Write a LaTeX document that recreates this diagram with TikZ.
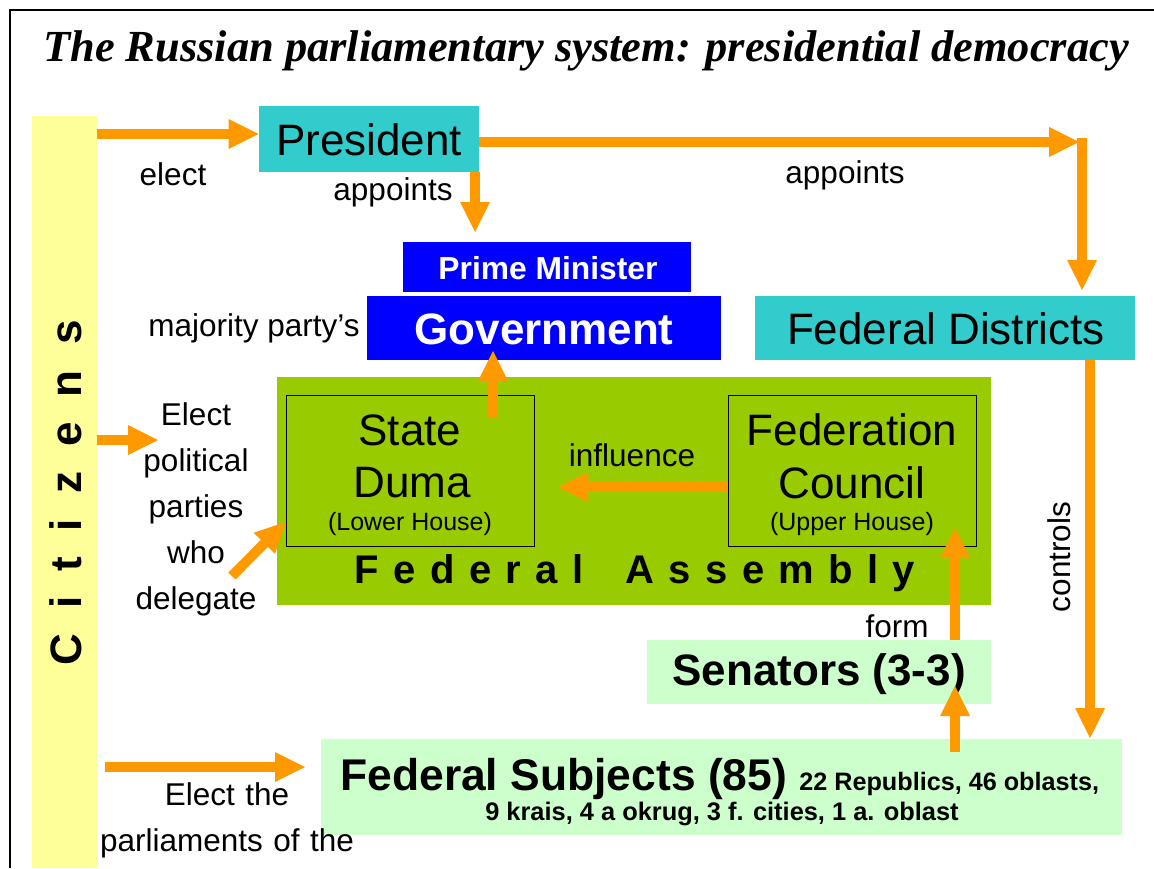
\documentclass[tikz,border=0pt]{standalone}
\usepackage{fontspec}
\setmainfont{Liberation Sans}
\newfontfamily\titlefont{Liberation Serif}
\usetikzlibrary{arrows.meta,calc}
\definecolor{orng}{HTML}{FF9900}
\definecolor{cyanbox}{HTML}{33CCCC}
\definecolor{bluebox}{HTML}{0000FF}
\definecolor{assembly}{HTML}{99CC00}
\definecolor{lgreen}{HTML}{CCFFCC}
\definecolor{ybar}{HTML}{FFFF99}
\tikzset{
  box/.style={draw=none, inner sep=0pt},
  house/.style={draw=black, line width=0.5pt, inner sep=0pt, minimum width=124pt, minimum height=75.5pt},
  lbl/.style={inner sep=0pt, font=\fontsize{15.75}{23}\selectfont, align=center},
  big/.style={inner sep=0pt, font=\fontsize{22}{26}\selectfont},
  small/.style={inner sep=0pt, font=\fontsize{12.5}{15}\selectfont},
  arr/.style={draw=orng, line width=5pt, -{Triangle[length=15pt,width=15pt,line width=0pt]}},
}
\begin{document}
\begin{tikzpicture}[x=0.5pt,y=-0.5pt]
\useasboundingbox (0,0) rectangle (1154,868);
% frame
\draw[line width=1.2pt] (10,868) -- (10,10) -- (1154,10);
% title
\node[inner sep=0pt, font=\titlefont\bfseries\itshape\fontsize{22.2}{27}\selectfont] (title) at (586,51) {The Russian parliamentary system: presidential democracy};
% citizens bar
\node[box, fill=ybar, minimum width=32.5pt, minimum height=376pt] (cit) at (64.5,492) {};
\node[inner sep=0pt, rotate=90, font=\fontsize{22}{26}\selectfont\bfseries] (citt) at (66,493)
  {C\hspace{12.6pt}i\hspace{12.6pt}t\hspace{12.6pt}i\hspace{12.6pt}z\hspace{12.6pt}e\hspace{12.6pt}n\hspace{12.6pt}s};
% boxes
\node[box, fill=cyanbox, minimum width=110pt, minimum height=33pt] (pres) at (369,139) {};
\node[big] at (369,140) {President};
\node[box, fill=bluebox, minimum width=144pt, minimum height=25pt] (pm) at (547,267) {};
\node[inner sep=0pt, text=white, font=\fontsize{15.9}{18}\selectfont\bfseries] at (548,268) {Prime Minister};
\node[box, fill=bluebox, minimum width=177pt, minimum height=32pt] (gov) at (544,328) {};
\node[big, text=white, font=\fontsize{22}{26}\selectfont\bfseries] at (544,329) {Government};
\node[box, fill=cyanbox, minimum width=190pt, minimum height=32pt] (fd) at (945,328) {};
\node[big] at (946,329) {Federal Districts};
\node[box, fill=assembly, minimum width=357pt, minimum height=114pt] (fa) at (634,491) {};
\node[house] (duma) at (410,470.5) {};
\node[house] (fc) at (852,470.5) {};
\node[big] at (410,430) {State};
\node[big] at (412,483) {Duma};
\node[small] at (410,524) {(Lower House)};
\node[big] at (852,430) {Federation};
\node[big] at (852,483) {Council};
\node[small] at (852,524) {(Upper House)};
\node[inner sep=0pt, font=\fontsize{20}{24}\selectfont\bfseries] (fat) at (635,573)
  {F\hspace{7.2pt}e\hspace{7.2pt}d\hspace{7.2pt}e\hspace{7.2pt}r\hspace{7.2pt}a\hspace{7.2pt}l\hspace{21pt}A\hspace{7.2pt}s\hspace{7.2pt}s\hspace{7.2pt}e\hspace{7.2pt}m\hspace{7.2pt}b\hspace{7.2pt}l\hspace{7.2pt}y};
\node[box, fill=lgreen, minimum width=172pt, minimum height=32pt] (sen) at (819,672) {};
\node[big, font=\fontsize{22}{26}\selectfont\bfseries] at (819,674) {Senators (3-3)};
\node[box, fill=lgreen, minimum width=400.5pt, minimum height=48pt] (fs) at (721.5,787) {};
\node[inner sep=0pt, anchor=base west] (fs1) at (340,790) {\fontsize{22.2}{26}\selectfont\bfseries Federal Subjects (85)\ \fontsize{12.6}{15}\selectfont 22 Republics, 46 oblasts,};
\node[inner sep=0pt, font=\fontsize{12.7}{15}\selectfont\bfseries] (fs2) at (722,814) {9 krais, 4 a okrug, 3 f. cities, 1 a. oblast};
% labels
\node[lbl] (lelect) at (173,174) {elect};
\node[lbl] (lapp1) at (393,192) {appoints};
\node[lbl] (lapp2) at (845,175) {appoints};
\node[lbl] (lmaj) at (254,328) {majority party’s};
\node[lbl] (linf) at (632,455) {influence};
\node[lbl] (lform) at (897,626) {form};
\node[lbl, rotate=90] (lctrl) at (1059,557) {controls};
\node[lbl, text width=80pt] (lparties) at (196,509) {Elect\\political\\parties\\who\\delegate};
\node[lbl, text width=130pt] (lsubj) at (227,820) {Elect the\\parliaments of the};
% corner coordinate
\coordinate (corner) at (1082,142);
% arrows
\draw[arr] (cit.east |- 0,134) -- (pres.west |- 0,134);
\draw[arr] (pres.south -| 475,0) -- (475,232);
\draw[arr] (pres.east |- 0,142) -- ($(corner)+(-3,0)$);
\draw[arr] ($(corner)+(0,-4.5)$) -- (1082,290);
\draw[arr] (493,418) -- (493,351);
\draw[arr] (fc.west |- 0,487) -- (558,487);
\draw[arr] (cit.east |- 0,440) -- (158,440);
\draw[arr] (232,576) -- (duma.west |- 0,522);
\draw[arr] (fd.south -| 1090,0) -- (1090,738);
\draw[arr] (sen.north -| 955,0) -- (955,528);
\draw[arr] (955,752) -- (955,686);
\draw[arr] (105,767) -- (305,767);
\end{tikzpicture}
\end{document}
